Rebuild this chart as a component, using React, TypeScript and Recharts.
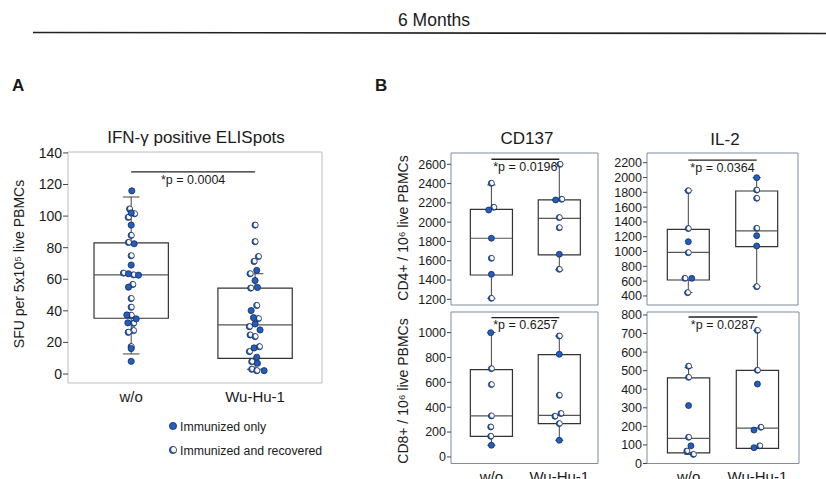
import React from "react"
import { ComposedChart, Scatter, XAxis, YAxis, ReferenceArea, ReferenceLine } from "recharts"

// [group (1 = w/o, 2 = Wu-Hu-1), jitter, value]
type Pt = [number, number, number]
type Box = { min: number; q1: number; med: number; q3: number; max: number }

const groups = ["w/o", "Wu-Hu-1"]

// A: IFN-γ ELISpot, SFU per 5x10^5 PBMCs
const ifnOnly: Pt[] = [
  [1, 0.005, 116], [1, 0, 102], [1, 0, 94.3], [1, 0.024, 82.5], [1, 0, 69], [1, -0.022, 63.5],
  [1, 0.059, 62.6], [1, -0.022, 55], [1, -0.035, 37.4], [1, 0.04, 34.9], [1, -0.027, 32.4],
  [1, 0, 16.1], [1, 0, 8],
  [2, 0.013, 65.6], [2, 0, 59.2], [2, 0.019, 54.8], [2, -0.032, 40.2], [2, -0.013, 35.7], [2, 0, 31.7],
  [2, 0.04, 27.9], [2, -0.008, 16.5], [2, 0.013, 10.6], [2, 0.019, 6.8], [2, 0.073, 2.1],
]
const ifnRecovered: Pt[] = [
  [1, -0.013, 104.5], [1, 0.027, 101.5], [1, -0.024, 99.2], [1, 0, 87.8], [1, -0.022, 83.3], [1, 0, 74.9],
  [1, -0.062, 63.9], [1, 0.019, 62.8], [1, 0.013, 56.7], [1, 0, 47.8], [1, 0, 42.3], [1, 0, 37.2],
  [1, 0.019, 32.1], [1, 0.019, 27.5], [1, -0.024, 26.4], [1, 0, 17.3],
  [2, 0, 94.3], [2, 0, 83.8], [2, 0.027, 74.4], [2, -0.008, 71.3], [2, -0.04, 63.5], [2, -0.035, 54.4],
  [2, 0.013, 43.4], [2, 0.027, 35.1], [2, -0.046, 30], [2, -0.04, 24.7], [2, 0, 23.7], [2, 0.035, 17.3],
  [2, -0.046, 14.2], [2, -0.027, 7.8], [2, -0.027, 3], [2, 0.013, 2.1],
]
const ifnBoxes: Box[] = [
  { min: 12.7, q1: 35.3, med: 62.8, q3: 83.1, max: 112.1 },
  { min: 3, q1: 9.9, med: 31.1, q3: 54.4, max: 63.5 },
]
const ifnTicks = [0, 20, 40, 60, 80, 100, 120, 140]

// B: CD4+ CD137
const cd4137Only: Pt[] = [[1, -0.04, 2126], [1, 0, 1833], [1, 0, 1459], [2, -0.054, 2230], [2, 0, 1667]]
const cd4137Recovered: Pt[] = [
  [1, 0, 2403], [1, 0.035, 2154], [1, 0, 1625], [1, 0, 1210],
  [2, 0.01, 2600], [2, 0.035, 2237], [2, 0, 2047], [2, 0, 1943], [2, 0, 1511],
]
const cd4137Boxes: Box[] = [
  { min: 1210, q1: 1452, med: 1833, q3: 2133, max: 2386 },
  { min: 1504, q1: 1660, med: 2040, q3: 2230, max: 2600 },
]
const cd4137Ticks = [1200, 1400, 1600, 1800, 2000, 2200, 2400, 2600]

// B: CD4+ IL-2
const cd4il2Only: Pt[] = [[1, 0, 1133], [1, 0.05, 638], [2, 0, 1998], [2, 0, 1215], [2, 0, 1075]]
const cd4il2Recovered: Pt[] = [
  [1, 0, 1822], [1, 0, 1310], [1, 0, 985], [1, -0.05, 638], [1, -0.01, 445],
  [2, 0, 1831], [2, 0, 1719], [2, 0, 1314], [2, 0, 526],
]
const cd4il2Boxes: Box[] = [
  { min: 445, q1: 616, med: 990, q3: 1300, max: 1822 },
  { min: 526, q1: 1066, med: 1278, q3: 1818, max: 1998 },
]
const cd4il2Ticks = [400, 600, 800, 1000, 1200, 1400, 1600, 1800, 2000, 2200]

// B: CD8+ CD137
const cd8137Only: Pt[] = [[1, -0.01, 1000], [1, 0, 94], [2, 0, 826], [2, 0, 134]]
const cd8137Recovered: Pt[] = [
  [1, 0, 710], [1, 0, 582], [1, 0, 330], [1, -0.01, 241], [1, -0.01, 166],
  [2, 0, 973], [2, 0, 496], [2, -0.064, 327], [2, 0.025, 349], [2, 0, 268],
]
const cd8137Boxes: Box[] = [
  { min: 94, q1: 166, med: 330, q3: 702, max: 1000 },
  { min: 134, q1: 268, med: 335, q3: 823, max: 973 },
]
const cd8137Ticks = [0, 200, 400, 600, 800, 1000]

// B: CD8+ IL-2
const cd8il2Only: Pt[] = [[1, 0, 312], [1, 0.034, 95], [2, 0, 428], [2, -0.05, 180], [2, -0.05, 85]]
const cd8il2Recovered: Pt[] = [
  [1, 0, 524], [1, 0, 464], [1, 0, 141], [1, -0.025, 67], [1, 0.07, 49],
  [2, 0, 717], [2, 0, 502], [2, 0.05, 195], [2, 0.034, 95],
]
const cd8il2Boxes: Box[] = [
  { min: 49, q1: 57.5, med: 135.5, q3: 461, max: 516 },
  { min: 81, q1: 81, med: 190, q3: 502, max: 717 },
]
const cd8il2Ticks = [0, 100, 200, 300, 400, 500, 600, 700, 800]

const BLUE = "#1f5fc4"
const EDGE = "#1d2b4f"
const INK = "#1a1a1a"
const FONT = "'Liberation Sans', Arial, sans-serif"

function OnlyDot({ cx, cy, r }: { cx: number; cy: number; r: number }) {
  return <circle cx={cx} cy={cy} r={r} fill={BLUE} stroke={EDGE} strokeWidth={0.8} />
}

// white dot with a blue crescent on the left
function RecDot({ cx, cy, r }: { cx: number; cy: number; r: number }) {
  return (
    <g>
      <circle cx={cx} cy={cy} r={r} fill={BLUE} />
      <circle cx={cx + r * 0.3} cy={cy - r * 0.15} r={r * 0.78} fill="#fff" />
      <circle cx={cx} cy={cy} r={r} fill="none" stroke={EDGE} strokeWidth={0.8} />
    </g>
  )
}

function VLabel({ lx, ly, text }: { lx: number; ly: number; text: string }) {
  return (
    <text x={lx} y={ly} transform={`rotate(-90 ${lx} ${ly})`} textAnchor="middle" dominantBaseline="central"
      fontSize={14} fill={INK} fontFamily={FONT}>
      {text}
    </text>
  )
}

interface PanelProps {
  plot: { left: number; top: number; right: number; bottom: number }
  yWidth: number
  xHide?: boolean
  xDomain: [number, number]
  yDomain: [number, number]
  ticks: number[]
  boxes: Box[]
  only: Pt[]
  recovered: Pt[]
  pText: string
  pY: number
  yLabel?: { text: string; x: number; y: number }
  frame: string
  tickFont: number
  tickSize: number
  half: number
  cap: number
  r: number
}

function BoxPanel(p: PanelProps) {
  const pad = 12
  const xh = 30
  const left = p.plot.left - p.yWidth
  const top = p.plot.top - pad
  const width = p.plot.right - left + 4
  const height = p.plot.bottom - top + (p.xHide ? pad : xh)
  const toXY = (pts: Pt[]) => pts.map(([g, j, v]) => ({ x: g + j, y: v }))
  return (
    <div style={{ position: "absolute", left, top }}>
      <ComposedChart width={width} height={height} margin={{ top: pad, right: 4, bottom: p.xHide ? pad : 0, left: 0 }}>
        <XAxis
          type="number"
          dataKey="x"
          domain={p.xDomain}
          ticks={[1, 2]}
          interval={0}
          allowDataOverflow
          tickFormatter={(v: number) => groups[v - 1]}
          axisLine={false}
          tickLine={false}
          hide={p.xHide}
          height={xh}
          tick={{ fontSize: 15, fill: INK, fontFamily: FONT }}
        />
        <YAxis
          type="number"
          dataKey="y"
          domain={p.yDomain}
          ticks={p.ticks}
          interval={0}
          allowDataOverflow
          width={p.yWidth}
          axisLine={false}
          tickSize={p.tickSize}
          tickMargin={1}
          tickLine={{ stroke: "#444" }}
          tick={{ fontSize: p.tickFont, fill: INK, fontFamily: FONT }}
          label={p.yLabel ? <VLabel lx={p.yLabel.x - left} ly={p.yLabel.y - top} text={p.yLabel.text} /> : undefined}
        />
        <ReferenceArea x1={p.xDomain[0]} x2={p.xDomain[1]} y1={p.yDomain[0]} y2={p.yDomain[1]}
          fill="none" stroke={p.frame} strokeWidth={1} fillOpacity={0} />
        {p.boxes.map((b, i) => {
          const c = i + 1
          return (
            <React.Fragment key={i}>
              <ReferenceLine segment={[{ x: c, y: b.q3 }, { x: c, y: b.max }]} stroke="#444" />
              <ReferenceLine segment={[{ x: c, y: b.min }, { x: c, y: b.q1 }]} stroke="#444" />
              <ReferenceLine segment={[{ x: c - p.cap, y: b.max }, { x: c + p.cap, y: b.max }]} stroke="#444" />
              <ReferenceLine segment={[{ x: c - p.cap, y: b.min }, { x: c + p.cap, y: b.min }]} stroke="#444" />
              <ReferenceArea x1={c - p.half} x2={c + p.half} y1={b.q1} y2={b.q3} fill="none" fillOpacity={0}
                stroke="#333" strokeWidth={1.2} />
              <ReferenceLine segment={[{ x: c - p.half, y: b.med }, { x: c + p.half, y: b.med }]} stroke="#555"
                strokeWidth={1.2} />
            </React.Fragment>
          )
        })}
        <ReferenceLine
          segment={[{ x: 1, y: p.pY }, { x: 2, y: p.pY }]}
          stroke="#222"
          strokeWidth={1.3}
          label={{ value: p.pText, position: "bottom", offset: 3, fontSize: 12.5, fill: INK, fontFamily: FONT }}
        />
        <Scatter data={toXY(p.recovered)} isAnimationActive={false}
          shape={(s: any) => <RecDot cx={s.cx} cy={s.cy} r={p.r} />} />
        <Scatter data={toXY(p.only)} isAnimationActive={false}
          shape={(s: any) => <OnlyDot cx={s.cx} cy={s.cy} r={p.r} />} />
      </ComposedChart>
    </div>
  )
}

const FRAME_B = "#7d8ea0"

export default function App() {
  return (
    <div style={{ position: "absolute", left: 0, top: 0, width: 826, height: 479, overflow: "hidden",
      background: "#fff", fontFamily: FONT }}>
      <svg width={826} height={479} style={{ position: "absolute", left: 0, top: 0 }} fontFamily={FONT}>
        <text x={434} y={26} textAnchor="middle" fontSize={17.5} fill={INK}>6 Months</text>
        <line x1={33} y1={32.5} x2={826} y2={33.5} stroke="#222" strokeWidth={1.6} />
        <text x={12} y={91} fontSize={17} fontWeight="bold" fill={INK}>A</text>
        <text x={375} y={91} fontSize={17} fontWeight="bold" fill={INK}>B</text>
        <text x={196} y={143} textAnchor="middle" fontSize={17} fill={INK}>IFN-γ positive ELISpots</text>
        <text x={527} y={144} textAnchor="middle" fontSize={17} fill={INK}>CD137</text>
        <text x={725} y={145} textAnchor="middle" fontSize={17} fill={INK}>IL-2</text>
        <OnlyDot cx={173} cy={426} r={3.6} />
        <text x={180} y={430.5} fontSize={12.3} fill={INK}>Immunized only</text>
        <RecDot cx={173} cy={450} r={3.6} />
        <text x={180} y={454.5} fontSize={12.3} fill={INK}>Immunized and recovered</text>
      </svg>

      <BoxPanel
        plot={{ left: 68, top: 152, right: 322, bottom: 383 }} yWidth={68}
        xDomain={[0.49, 2.54]} yDomain={[-5.7, 140.6]} ticks={ifnTicks}
        boxes={ifnBoxes} only={ifnOnly} recovered={ifnRecovered}
        pText="*p = 0.0004" pY={128}
        yLabel={{ text: "SFU per 5x10⁵ live PBMCs", x: 19, y: 264 }}
        frame="#bdbdbd" tickFont={14} tickSize={5} half={0.3} cap={0.067} r={3.1}
      />
      <BoxPanel
        plot={{ left: 451, top: 153, right: 598, bottom: 305 }} yWidth={71} xHide
        xDomain={[0.405, 2.57]} yDomain={[1141, 2717]} ticks={cd4137Ticks}
        boxes={cd4137Boxes} only={cd4137Only} recovered={cd4137Recovered}
        pText="*p = 0.0196" pY={2652}
        yLabel={{ text: "CD4+ / 10⁶ live PBMCs", x: 403, y: 228 }}
        frame={FRAME_B} tickFont={12.5} tickSize={4} half={0.31} cap={0.06} r={3}
      />
      <BoxPanel
        plot={{ left: 647, top: 153, right: 798, bottom: 305 }} yWidth={57} xHide
        xDomain={[0.396, 2.604]} yDomain={[278, 2331]} ticks={cd4il2Ticks}
        boxes={cd4il2Boxes} only={cd4il2Only} recovered={cd4il2Recovered}
        pText="*p = 0.0364" pY={2236}
        frame={FRAME_B} tickFont={12.5} tickSize={4} half={0.307} cap={0.06} r={3}
      />
      <BoxPanel
        plot={{ left: 451, top: 312, right: 598, bottom: 463.5 }} yWidth={71}
        xDomain={[0.405, 2.57]} yDomain={[-53, 1166]} ticks={cd8137Ticks}
        boxes={cd8137Boxes} only={cd8137Only} recovered={cd8137Recovered}
        pText="*p = 0.6257" pY={1121}
        yLabel={{ text: "CD8+ / 10⁶ live PBMCs", x: 403, y: 391 }}
        frame={FRAME_B} tickFont={12.5} tickSize={4} half={0.31} cap={0.06} r={3}
      />
      <BoxPanel
        plot={{ left: 647, top: 312, right: 799, bottom: 463.5 }} yWidth={57}
        xDomain={[0.396, 2.604]} yDomain={[0, 816]} ticks={cd8il2Ticks}
        boxes={cd8il2Boxes} only={cd8il2Only} recovered={cd8il2Recovered}
        pText="*p = 0.0287" pY={789}
        frame={FRAME_B} tickFont={12.5} tickSize={4} half={0.307} cap={0.06} r={3}
      />
    </div>
  )
}
